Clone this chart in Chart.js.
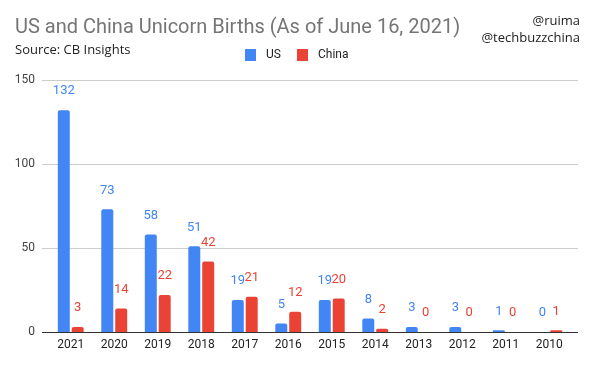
<!DOCTYPE html>
<html>
<head>
<meta charset="utf-8">
<script src="https://cdn.jsdelivr.net/npm/chart.js@4"></script>
<style>
  html, body { margin: 0; padding: 0; background: #fff; }
  #wrap { position: relative; width: 594px; height: 367px; }
</style>
</head>
<body>
<div id="wrap"><canvas id="myChart" width="594" height="367"></canvas></div>
<script>
const years = ['2021', '2020', '2019', '2018', '2017', '2016', '2015', '2014', '2013', '2012', '2011', '2010'];
const usBirths = [132, 73, 58, 51, 19, 5, 19, 8, 3, 3, 1, 0];
const chinaBirths = [3, 14, 22, 42, 21, 12, 20, 2, 0, 0, 0, 1];
const yTicks = [0, 50, 100, 150];

const blue = '#4285f4';
const red = '#ea4335';

// gridlines run a little past the bar area, like the original
const gridlines = {
    id: 'gridlines',
    beforeDatasetsDraw(chart) {
        const ctx = chart.ctx;
        const y = chart.scales.y;
        const a = chart.chartArea;
        ctx.save();
        ctx.lineWidth = 1;
        yTicks.forEach(v => {
            const py = Math.round(y.getPixelForValue(v)) + 0.5;
            ctx.strokeStyle = v === 0 ? '#333' : '#ccc';
            ctx.beginPath();
            ctx.moveTo(a.left - 7, py);
            ctx.lineTo(a.right + 7, py);
            ctx.stroke();
        });
        ctx.restore();
    }
};

// headings, legend and value labels drawn straight on the canvas
const extras = {
    id: 'extras',
    afterDraw(chart) {
        const ctx = chart.ctx;
        ctx.save();
        ctx.textBaseline = 'alphabetic';

        ctx.fillStyle = '#757575';
        ctx.font = '20px Roboto';
        ctx.textAlign = 'left';
        ctx.fillText('US and China Unicorn Births (As of June 16, 2021)', 15, 33);

        ctx.fillStyle = '#222';
        ctx.font = '13px "Open Sans"';
        ctx.fillText('Source: CB Insights', 15, 54);

        ctx.textAlign = 'right';
        ctx.fillText('@ruima', 580, 25);
        ctx.fillText('@techbuzzchina', 580, 42);

        // legend
        ctx.textAlign = 'left';
        ctx.textBaseline = 'middle';
        ctx.font = '12px Roboto';
        ctx.fillStyle = blue;
        ctx.fillRect(245, 49, 11, 12);
        ctx.fillStyle = '#222';
        ctx.fillText('US', 266, 55);
        ctx.fillStyle = red;
        ctx.fillRect(297, 49, 11, 12);
        ctx.fillStyle = '#222';
        ctx.fillText('China', 318, 55);

        // value labels above bars
        ctx.textAlign = 'center';
        ctx.font = '13px Roboto';
        chart.data.datasets.forEach((ds, i) => {
            const meta = chart.getDatasetMeta(i);
            ctx.fillStyle = ds.backgroundColor;
            meta.data.forEach((bar, j) => {
                ctx.fillText(String(ds.data[j]), bar.x, bar.y - 19);
            });
        });
        ctx.restore();
    }
};

new Chart(document.getElementById('myChart'), {
    type: 'bar',
    data: {
        labels: years,
        datasets: [{
            label: 'US',
            backgroundColor: blue,
            data: usBirths,
            borderRadius: { topLeft: 2, topRight: 2 },
            borderSkipped: 'bottom'
        }, {
            label: 'China',
            backgroundColor: red,
            data: chinaBirths,
            borderRadius: { topLeft: 2, topRight: 2 },
            borderSkipped: 'bottom'
        }]
    },
    options: {
        responsive: false,
        animation: false,
        layout: { padding: { top: 80, right: 23, left: 0, bottom: 0 } },
        categoryPercentage: 0.64,
        barPercentage: 0.86,
        plugins: {
            legend: { display: false },
            tooltip: { enabled: false }
        },
        scales: {
            x: {
                grid: { display: false, drawTicks: false },
                border: { display: false },
                ticks: {
                    color: '#222',
                    font: { family: 'Roboto', size: 12 },
                    padding: 6,
                    maxRotation: 0
                },
                afterFit(scale) { scale.height = 35; }
            },
            y: {
                min: 0,
                max: 150,
                afterBuildTicks(scale) { scale.ticks = yTicks.map(v => ({ value: v })); },
                grid: { display: false, drawTicks: false },
                border: { display: false },
                ticks: {
                    color: '#444',
                    font: { family: 'Roboto', size: 12 },
                    padding: 14
                },
                afterFit(scale) { scale.width = 49; }
            }
        }
    },
    plugins: [gridlines, extras]
});
</script>
</body>
</html>
